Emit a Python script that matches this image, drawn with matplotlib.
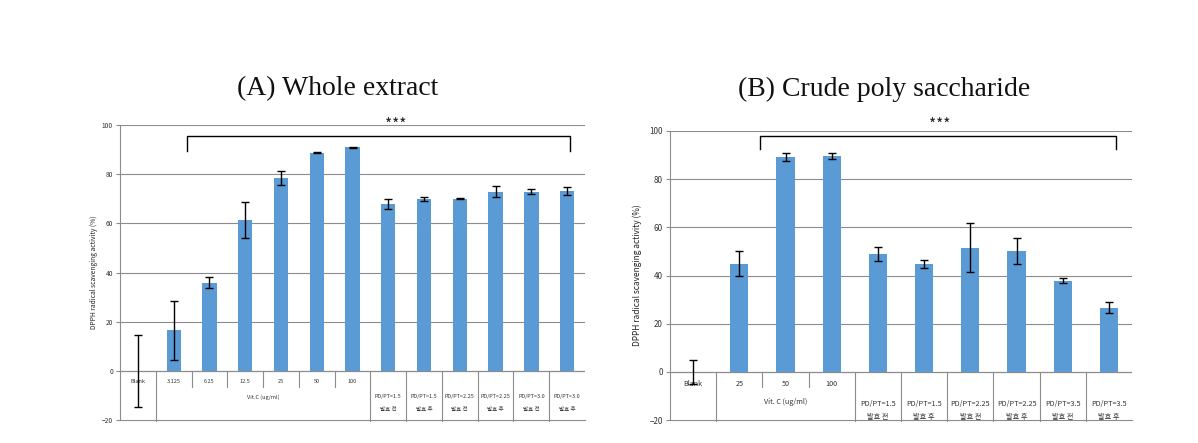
import matplotlib
matplotlib.use("Agg")
import matplotlib.pyplot as plt
import numpy as np

plt.rcParams['font.family'] = ['Noto Sans CJK KR', 'DejaVu Sans']

# ---------- data ----------
a_conc = ["Blank", "3.125", "6.25", "12.5", "25", "50", "100"]
a_pd = ["PD/PT=1.5", "PD/PT=1.5", "PD/PT=2.25", "PD/PT=2.25", "PD/PT=3.0", "PD/PT=3.0"]
a_ferm = ["발효 전", "발효 후", "발효 전", "발효 후", "발효 전", "발효 후"]
a_vals = [0, 16.5, 35.9, 61.4, 78.5, 88.8, 90.9, 67.8, 70.0, 70.0, 72.8, 72.8, 73.2]
a_err = [14.6, 11.9, 2.4, 7.4, 2.9, 0.3, 0.2, 1.9, 0.75, 0.15, 2.2, 1.0, 1.6]

b_conc = ["Blank", "25", "50", "100"]
b_pd = ["PD/PT=1.5", "PD/PT=1.5", "PD/PT=2.25", "PD/PT=2.25", "PD/PT=3.5", "PD/PT=3.5"]
b_ferm = ["발효 전", "발효 후", "발효 전", "발효 후", "발효 전", "발효 후"]
b_vals = [0, 44.9, 89.2, 89.6, 48.9, 44.8, 51.5, 50.0, 37.8, 26.7]
b_err = [5.0, 5.2, 1.5, 1.2, 2.8, 1.7, 10.2, 5.4, 1.0, 2.3]

titles = ["(A) Whole extract", "(B) Crude poly saccharide"]
vitc_labels = ["Vit.C (ug/ml)", "Vit. C (ug/ml)"]
ylabel = "DPPH radical scavenging activity (%)"
signif = "***"

BAR = "#5B9BD5"
GRID = "#8C8C8C"

W, H = 1198, 443
fig = plt.figure(figsize=(W / 100, H / 100), dpi=100)


def make_axes(l, r, top, bottom):
    return fig.add_axes([l / W, 1 - bottom / H, (r - l) / W, (bottom - top) / H])


def draw(ax, conc, pd, ferm, vals, err, fs_tick, fs_lab, fs_ylab, bw, capsize,
         y_num, y_vit, y_pd, y_ferm, vit_label, bracket, star, ylab_x):
    n = len(vals)
    x = np.arange(n)
    ax.bar(x, vals, width=bw, color=BAR, zorder=3)
    ax.errorbar(x, vals, yerr=err, fmt='none', ecolor='black', elinewidth=1.0,
                capsize=capsize, capthick=1.0, zorder=4)
    ax.set_xlim(-0.5, n - 0.5)
    ax.set_ylim(-20, 100)
    ax.set_yticks(np.arange(-20, 101, 20))
    ax.tick_params(axis='y', labelsize=fs_tick, length=3, color=GRID, width=0.8,
                   labelcolor='#333333', pad=2)
    ax.set_xticks([])
    for s in ['top', 'right']:
        ax.spines[s].set_visible(False)
    ax.spines['left'].set_color(GRID)
    ax.spines['bottom'].set_color(GRID)
    ax.spines['left'].set_linewidth(0.8)
    ax.spines['bottom'].set_linewidth(0.8)
    for yv in [20, 40, 60, 80, 100]:
        ax.axhline(yv, color=GRID, lw=0.8, zorder=1)
    ax.axhline(0, color=GRID, lw=0.9, zorder=2)
    # category table
    nc = len(conc)
    for i in range(n):
        if i < nc:
            ax.text(i, y_num, conc[i], ha='center', va='center', fontsize=fs_lab, color='#333333')
        else:
            j = i - nc
            ax.text(i, y_pd, pd[j], ha='center', va='center', fontsize=fs_lab, color='#333333')
            ax.text(i, y_ferm, ferm[j], ha='center', va='center', fontsize=fs_lab, color='#333333')
    for i in range(n - 1):
        b = i + 0.5
        if 1 <= i < nc - 1:
            ax.plot([b, b], [0, -6.5], color=GRID, lw=0.8, clip_on=False)
        else:
            ax.plot([b, b], [0, -20.5], color=GRID, lw=0.8, clip_on=False)
    ax.text((1 + nc - 1) / 2, y_vit, vit_label, ha='center', va='center', fontsize=fs_lab, color='#333333')
    # significance bracket
    x0, x1, yt, yb = bracket
    ax.plot([x0, x0, x1, x1], [yb, yt, yt, yb], color='black', lw=1.0, clip_on=False, zorder=5)
    ax.text(star[0], star[1], signif, ha='center', va='center', fontsize=11,
            color='#222222', clip_on=False)
    ax.set_ylabel(ylabel, fontsize=fs_ylab, color='#222222')
    ax.yaxis.set_label_coords(ylab_x, 0.5)


axA = make_axes(120, 585, 125, 420)
draw(axA, a_conc, a_pd, a_ferm, a_vals, a_err, fs_tick=4.8, fs_lab=4.0, fs_ylab=4.8, bw=0.4, capsize=3,
     y_num=-4.4, y_vit=-10.6, y_pd=-10.6, y_ferm=-15.9, vit_label=vitc_labels[0],
     bracket=(1.37, 12.08, 95.5, 89.4), star=(7.2, 100.0), ylab_x=-0.048)

axB = make_axes(670, 1132, 131, 420)
draw(axB, b_conc, b_pd, b_ferm, b_vals, b_err, fs_tick=5.8, fs_lab=5.2, fs_ylab=6.0, bw=0.39, capsize=3,
     y_num=-5.0, y_vit=-12.5, y_pd=-13.3, y_ferm=-18.7, vit_label=vitc_labels[1],
     bracket=(1.45, 9.15, 97.9, 92.5), star=(5.34, 102.5), ylab_x=-0.06)

fig.text(338 / W, 1 - 89 / H, titles[0], ha='center', va='center', fontsize=20,
         family='Liberation Serif', color='#111111')
fig.text(884 / W, 1 - 89 / H, titles[1], ha='center', va='center', fontsize=20,
         family='Liberation Serif', color='#111111')

fig.savefig("out.png", dpi=100)
